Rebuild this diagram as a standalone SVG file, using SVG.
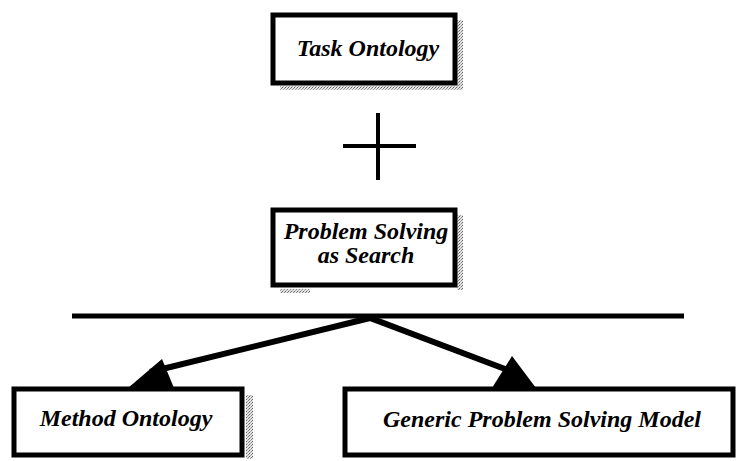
<svg xmlns="http://www.w3.org/2000/svg" width="739" height="461" viewBox="0 0 739 461">
  <defs>
    <pattern id="grain" width="3" height="3" patternUnits="userSpaceOnUse">
      <rect width="3" height="3" fill="#e2e2e2"/>
      <rect x="0" y="0" width="1" height="1" fill="#666"/>
      <rect x="2" y="1" width="1" height="1" fill="#888"/>
      <rect x="1" y="2" width="1" height="1" fill="#aaa"/>
    </pattern>
  </defs>
  <style>
    .box { fill: #fff; stroke: #000; stroke-width: 5; }
    .shade { fill: url(#grain); }
    .label { font-family: "Liberation Serif", "Times New Roman", serif; font-style: italic; font-weight: bold; font-size: 24px; fill: #000; text-anchor: middle; }
    .edge { stroke: #000; stroke-width: 6; fill: none; }
    .head { fill: #000; }
  </style>
  <rect width="739" height="461" fill="#fff"/>

  <g id="task-ontology">
    <rect class="shade" x="457" y="20" width="6" height="70"/>
    <rect class="shade" x="280" y="86" width="180" height="4"/>
    <rect class="box" x="273" y="15" width="182" height="68"/>
    <text class="label" x="368" y="56">Task Ontology</text>
  </g>

  <g id="plus">
    <line x1="378" y1="113" x2="378" y2="180" stroke="#000" stroke-width="4"/>
    <line x1="343" y1="146" x2="416" y2="146" stroke="#000" stroke-width="4"/>
  </g>

  <g id="problem-solving">
    <rect class="shade" x="457" y="215" width="6" height="75"/>
    <rect class="shade" x="280" y="289" width="30" height="4"/>
    <rect class="box" x="273" y="210" width="182" height="75"/>
    <text class="label" x="366" y="239">Problem Solving</text>
    <text class="label" x="366" y="263">as Search</text>
  </g>

  <g id="method-ontology">
    <rect class="shade" x="246" y="395" width="7" height="64"/>
    <rect class="box" x="14" y="389" width="228" height="66"/>
    <text class="label" x="126" y="426">Method Ontology</text>
  </g>

  <g id="generic-model">
    <rect class="box" x="345" y="389" width="388" height="66"/>
    <text class="label" x="542" y="427">Generic Problem Solving Model</text>
  </g>

  <g id="connectors">
    <line x1="72" y1="316" x2="684" y2="316" stroke="#000" stroke-width="5"/>
    <polyline class="edge" points="150,372 370,318 505,369"/>
    <polygon class="head" points="128,388 162,359 174,388"/>
    <polygon class="head" points="492,388 512,356 536,388"/>
  </g>
</svg>
